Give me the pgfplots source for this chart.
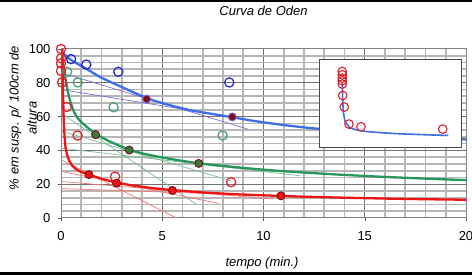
\documentclass[border=0pt]{standalone}
\usepackage{fontspec}
\setmainfont{Liberation Sans}
\usepackage{pgfplots}
\pgfplotsset{compat=1.18}
\definecolor{bluecurve}{RGB}{60,110,230}
\definecolor{blueopen}{RGB}{30,30,200}
\definecolor{bluethin}{RGB}{120,110,220}
\definecolor{greencurve}{RGB}{40,150,90}
\definecolor{greenopen}{RGB}{70,160,110}
\definecolor{greenthin}{RGB}{120,190,150}
\definecolor{greenfill}{RGB}{50,125,60}
\definecolor{redcurve}{RGB}{238,20,20}
\definecolor{redopen}{RGB}{225,30,40}
\definecolor{redthin}{RGB}{240,120,120}
\definecolor{darkred}{RGB}{130,10,20}
\definecolor{gridminor}{RGB}{182,182,182}
\definecolor{gridmajor}{RGB}{115,115,115}
\begin{document}
\begin{tikzpicture}
\path[use as bounding box] (0pt,0pt) rectangle (472pt,275pt);
\fill[black] (0pt,272.5pt) rectangle (472pt,275pt);
\fill[black] (0pt,0pt) rectangle (472pt,2.5pt);
\begin{axis}[
  at={(61pt,57pt)}, anchor=south west, scale only axis, width=405pt, height=169pt,
  xmin=0, xmax=20, ymin=0, ymax=100,
  xtick={0,5,10,15,20}, ytick={0,20,...,100},
  minor x tick num=4, minor y tick num=4,
  grid=both,
  major grid style={gridmajor, line width=1pt},
  minor grid style={gridminor, line width=1.7pt},
  axis line style={gray, line width=1pt},
  tick pos=left, tick align=outside, major tick length=3pt, minor tick length=0pt,
  tick style={gray!70!black},
  font=\fontsize{13}{15}\selectfont,
  /pgf/number format/assume math mode=true,
  yticklabel style={xshift=-4pt},
  xticklabel style={yshift=-7pt},
]
% thin tangent lines
\addplot[bluethin, line width=0.7pt] coordinates {(0,86) (9.25,52.5)};
\addplot[bluethin, line width=0.7pt] coordinates {(0,76) (9.2,58.3)};
\addplot[greenthin, line width=0.7pt] coordinates {(0,62) (6.7,8)};
\addplot[greenthin, line width=0.7pt] coordinates {(0,51.5) (8.4,22)};
\addplot[greenthin, line width=0.7pt] coordinates {(0,41.3) (11.8,25)};
\addplot[redthin, line width=0.7pt] coordinates {(0,34.5) (5.7,0)};
\addplot[redthin, line width=0.7pt] coordinates {(0,27.6) (7.8,8.6)};
\addplot[redthin, line width=0.7pt] coordinates {(0,21.6) (10.5,11.2)};
\addplot[redthin, line width=0.7pt] coordinates {(0,17.4) (14,11.8)};
% fitted curves
\addplot[bluecurve, line width=2.3pt, smooth] coordinates {
(0.05,98) (0.2,96.5) (0.5,93.5) (1,90) (1.5,86.5) (2,83) (3,77.5) (4.23,71)
(5,68) (6.3,64) (7.5,61.5) (8.46,59.6) (9.6,57.3) (11,55) (12.5,53) (14,51.5)
(16,49.5) (18,48) (20,46.5)};
\addplot[greencurve, line width=2.3pt, smooth] coordinates {
(0.05,95) (0.1,91) (0.18,85.5) (0.35,74) (0.5,67.5) (0.67,62) (0.9,58) (1.17,55)
(1.66,50.2) (2.2,46.5) (2.8,43.2) (3.37,40.5) (4,38.3) (5,35.8) (6,33.8) (6.8,32.4)
(8,30.8) (10,28.6) (12,26.9) (14,25.5) (16,24.3) (18,23.3) (20,22.4)};
\addplot[redcurve, line width=2.3pt] coordinates {
(0.07,100) (0.08,88) (0.1,74) (0.13,60) (0.17,49) (0.22,42) (0.3,37.5) (0.4,34)
(0.55,31) (0.75,28.8) (1,27.2) (1.38,25.7) (2,23.2) (2.75,20.9) (3.5,19.3)
(4.5,17.7) (5.5,16.5) (7,15.1) (8.5,14.1) (10,13.4) (12,12.6) (14,12) (16,11.5)
(18,11.1) (20,10.8)};
% open circles
\addplot[only marks, mark=o, mark size=4.6pt, blueopen, mark options={line width=1.2pt}] coordinates {
(0.5,94) (1.25,90.8) (2.83,86.5) (8.31,80.2)};
\addplot[only marks, mark=o, mark size=4.6pt, greenopen, mark options={line width=1.2pt}] coordinates {
(0.3,86.5) (0.83,80.2) (2.6,65.5) (7.98,48.8)};
\addplot[only marks, mark=o, mark size=4.6pt, redopen, mark options={line width=1.2pt}] coordinates {
(0,100) (0,94.5) (0,91.5) (0,87) (0.05,80.2) (0.28,65.7) (0.82,48.8) (2.67,24.5) (8.4,21.2)};
% filled points
\addplot[only marks, mark=*, mark size=4pt, mark options={fill=darkred, draw=bluethin, line width=0.9pt}] coordinates {
(4.23,70.4) (8.46,59.8)};
\addplot[only marks, mark=*, mark size=4pt, mark options={fill=greenfill, draw=darkred, line width=0.9pt}] coordinates {
(1.71,49.3) (3.37,40.2) (6.8,32.3)};
\addplot[only marks, mark=*, mark size=4pt, mark options={fill=redcurve, draw=darkred, line width=0.9pt}] coordinates {
(1.38,25.7) (2.75,20.6) (5.5,16.3) (10.86,13.1)};
\end{axis}
% inset
\begin{axis}[
  at={(319pt,127.5pt)}, anchor=south west, scale only axis, width=142.7pt, height=87.7pt,
  xmin=0, xmax=100, ymin=0, ymax=100, ticks=none,
  axis background/.style={fill=white},
  axis line style={gray!60!black, line width=0.8pt},
]
\addplot[bluecurve, line width=1.6pt] coordinates {
(16.3,73.4) (16.6,55) (17.0,41) (18.2,29.6) (21.7,22.1) (27,19.8) (33.4,18.2) (45,16.7) (56.8,15.6) (75,14.5) (90.6,13.7)};
\addplot[only marks, mark=o, mark size=4.3pt, redopen, mark options={line width=1.1pt}] coordinates {
(16.3,86.7) (16.3,82.9) (16.3,79.1) (16.3,76.1) (16.3,72.3) (16.6,59.3) (17.7,46.1) (21.0,26.7) (29.4,23.6) (86.7,21.0)};
\end{axis}
\node[font=\fontsize{13}{15}\selectfont\itshape] at (263.5pt,264pt) {Curva de Oden};
\node[font=\fontsize{13}{15}\selectfont\itshape] at (262pt,12pt) {tempo (min.)};
\node[font=\fontsize{13}{18}\selectfont\itshape, rotate=90, align=center] at (23pt,157pt) {\% em susp. p/ 100cm de\\altura};
\end{tikzpicture}
\end{document}
